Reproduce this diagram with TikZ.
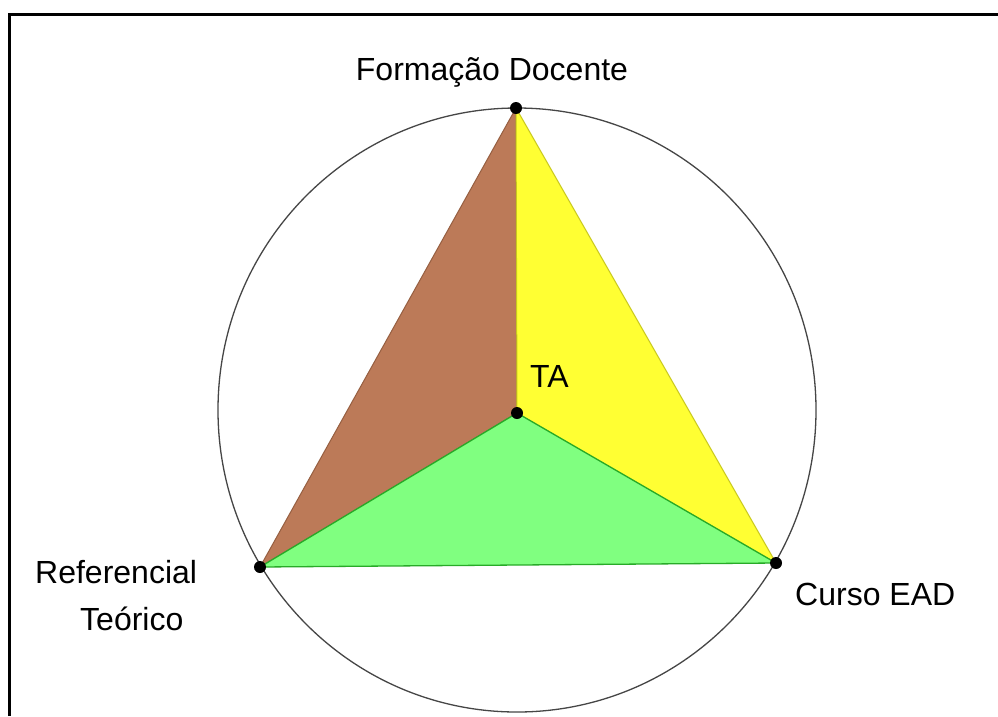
\documentclass[tikz,border=0pt]{standalone}
\usepackage{fontspec}
\setmainfont{Liberation Sans}
\begin{document}
\begin{tikzpicture}[x=1pt,y=-1pt,
  lbl/.style={inner sep=0pt,font=\fontsize{32}{38}\selectfont},
  vdot/.style={circle,fill=black,inner sep=0pt,minimum size=12pt}]
\useasboundingbox (0,0) rectangle (998,716);
\fill[white] (0,0) rectangle (998,716);
% frame (left and top edges visible)
\draw[line width=3pt] (9.5,716) -- (9.5,14.5) -- (998,14.5);
% points
\coordinate (F) at (516,108);
\coordinate (R) at (260,567);
\coordinate (C) at (776,563);
\coordinate (T) at (517,413);
% regions
\filldraw[fill={rgb,255:red,188;green,122;blue,88},draw={rgb,255:red,150;green,95;blue,65},line width=1pt,line join=round] (F) -- (T) -- (R) -- cycle;
\filldraw[fill={rgb,255:red,255;green,255;blue,51},draw={rgb,255:red,200;green,200;blue,30},line width=1pt,line join=round] (F) -- (C) -- (T) -- cycle;
\filldraw[fill={rgb,255:red,128;green,255;blue,128},draw={rgb,255:red,40;green,170;blue,40},line width=1.3pt,line join=round] (T) -- (C) -- (R) -- cycle;
% circle
\draw[line width=1.3pt,draw={rgb,255:red,70;green,70;blue,70}] (517,410) ellipse [x radius=299,y radius=302];
% vertices
\node[vdot] (f) at (F) {};
\node[vdot] (r) at (R) {};
\node[vdot] (c) at (C) {};
\node[vdot] (t) at (T) {};
% labels
\node[lbl,anchor=base] (lf) at (492,80) {Formação Docente};
\node[lbl,anchor=base west] (lc) at (795,605) {Curso EAD};
\node[lbl,anchor=base west] (lr1) at (35,583) {Referencial};
\node[lbl,anchor=base west] (lr2) at (80,630) {Teórico};
\node[lbl,anchor=base west] (lt) at (530,387) {TA};
\end{tikzpicture}
\end{document}
